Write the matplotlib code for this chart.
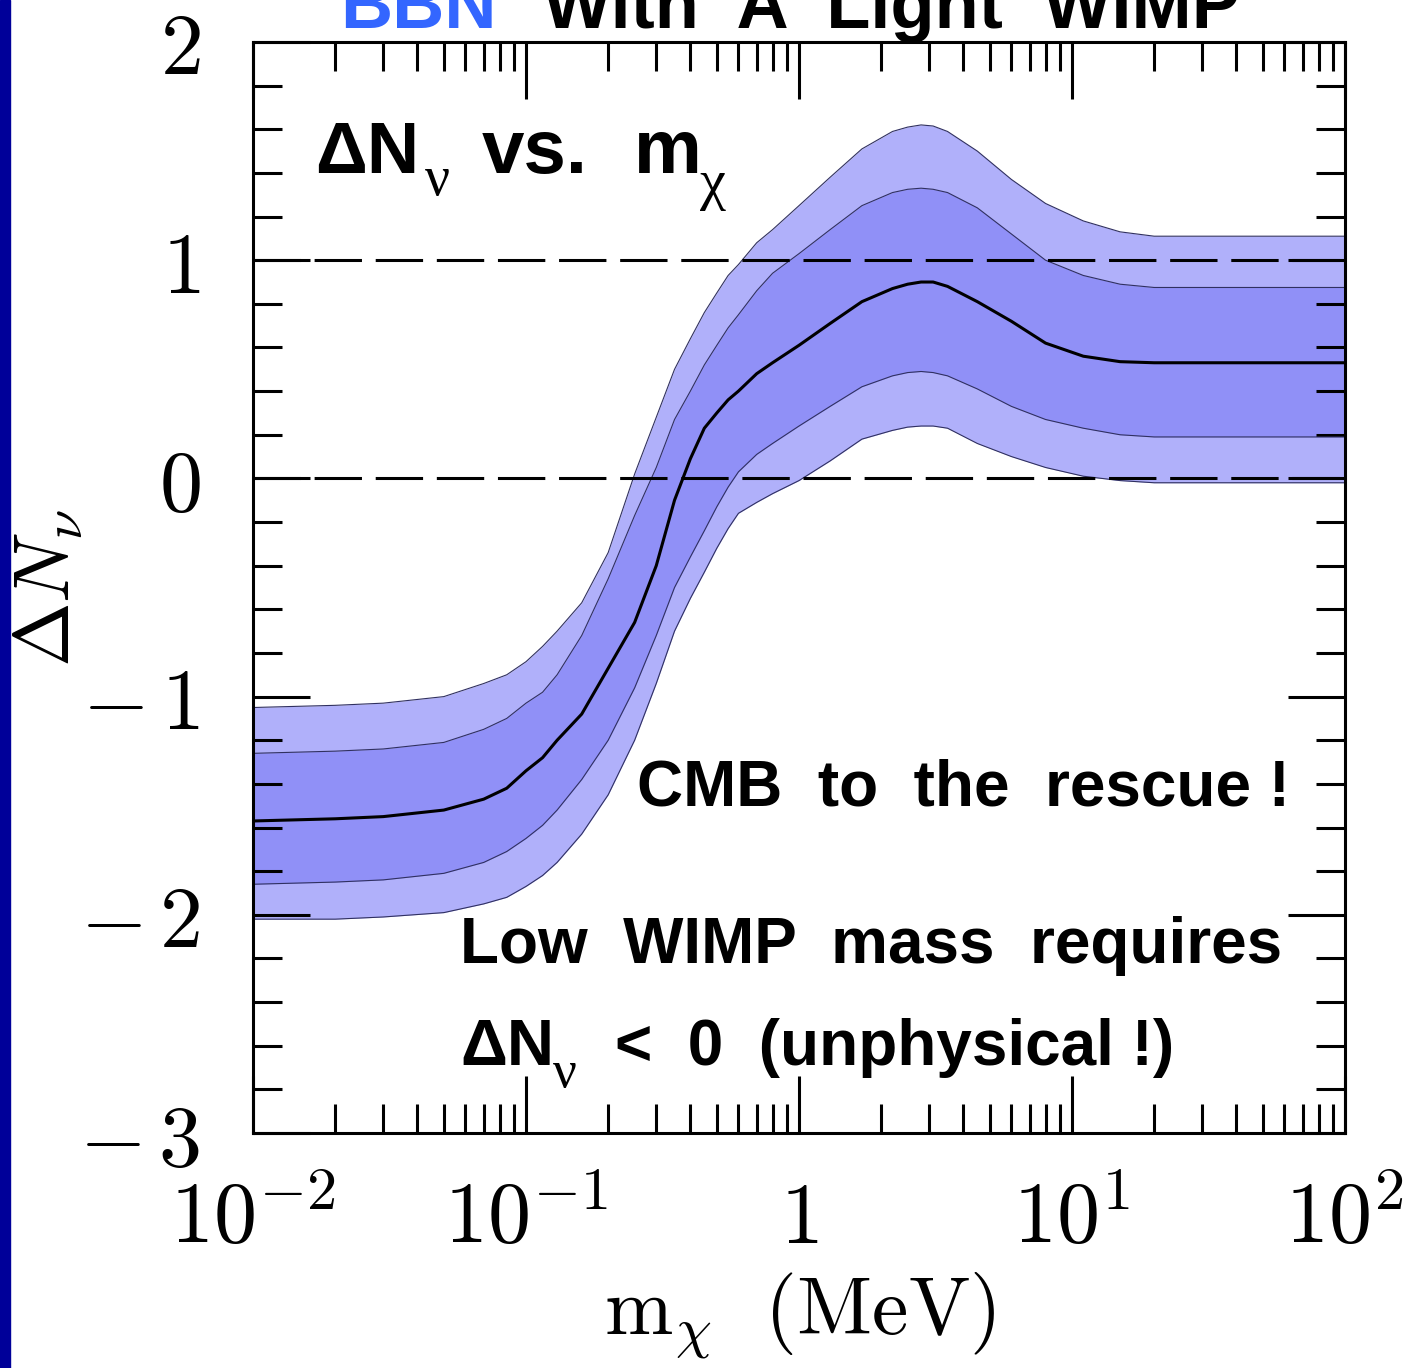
import matplotlib
matplotlib.use('Agg')
import matplotlib.pyplot as plt
from matplotlib.patches import Rectangle
from matplotlib.ticker import MultipleLocator, LogLocator, NullFormatter

# WIMP mass (MeV) and Delta N_nu band edges
mass = [0.01, 0.02, 0.03, 0.05, 0.07, 0.085, 0.1, 0.115, 0.13, 0.16, 0.2, 0.25, 0.3, 0.35, 0.4,
        0.45, 0.5, 0.55, 0.6, 0.7, 0.8, 1.0, 1.3, 1.7, 2.2, 2.5, 2.8, 3.1, 3.5, 4.5, 6, 8, 11,
        15, 20, 30, 50, 100]
central = [-1.57, -1.56, -1.55, -1.52, -1.47, -1.42, -1.34, -1.28, -1.20, -1.08, -0.87, -0.66,
           -0.40, -0.10, 0.09, 0.23, 0.30, 0.36, 0.40, 0.48, 0.53, 0.61, 0.71, 0.81, 0.87, 0.89,
           0.90, 0.90, 0.88, 0.81, 0.72, 0.62, 0.56, 0.535, 0.53, 0.53, 0.53, 0.53]
inner_hi = [-1.26, -1.25, -1.24, -1.21, -1.15, -1.10, -1.03, -0.98, -0.90, -0.72, -0.46, -0.17,
            0.05, 0.27, 0.40, 0.52, 0.61, 0.69, 0.75, 0.86, 0.94, 1.03, 1.14, 1.25, 1.31, 1.325,
            1.33, 1.325, 1.31, 1.24, 1.12, 1.00, 0.93, 0.89, 0.875, 0.875, 0.875, 0.875]
inner_lo = [-1.86, -1.85, -1.84, -1.81, -1.76, -1.71, -1.65, -1.59, -1.52, -1.38, -1.20, -0.96,
            -0.72, -0.50, -0.36, -0.24, -0.13, -0.04, 0.03, 0.11, 0.16, 0.24, 0.33, 0.42, 0.47,
            0.485, 0.49, 0.485, 0.47, 0.41, 0.33, 0.27, 0.23, 0.20, 0.19, 0.19, 0.19, 0.19]
outer_hi = [-1.05, -1.04, -1.03, -1.00, -0.94, -0.90, -0.84, -0.77, -0.70, -0.57, -0.34, 0.02,
            0.28, 0.50, 0.64, 0.76, 0.85, 0.93, 0.98, 1.08, 1.14, 1.25, 1.38, 1.51, 1.59, 1.61,
            1.62, 1.615, 1.59, 1.50, 1.37, 1.26, 1.18, 1.13, 1.11, 1.11, 1.11, 1.11]
outer_lo = [-2.02, -2.02, -2.01, -1.99, -1.95, -1.92, -1.87, -1.82, -1.76, -1.63, -1.45, -1.20,
            -0.94, -0.70, -0.55, -0.43, -0.32, -0.23, -0.16, -0.11, -0.07, -0.01, 0.08, 0.18,
            0.22, 0.235, 0.24, 0.24, 0.23, 0.16, 0.10, 0.05, 0.01, -0.01, -0.02, -0.02, -0.02,
            -0.02]
ref_lines = [0, 1]

xticks = [0.01, 0.1, 1, 10, 100]
xticklabels = [r'$10^{-2}$', r'$10^{-1}$', r'$1$', r'$10^{1}$', r'$10^{2}$']
yticks = [-3, -2, -1, 0, 1, 2]
yticklabels = [r'$-\,3$', r'$-\,2$', r'$-\,1$', r'$0$', r'$1$', r'$2$']

plt.rcParams['mathtext.fontset'] = 'cm'

W, H = 1419, 1368
fig = plt.figure(figsize=(W / 100, H / 100), dpi=100)
fig.patches.append(Rectangle((0, 0), 10 / W, 1, transform=fig.transFigure,
                             color='#000099', zorder=0))

ax = fig.add_axes([253 / W, 1 - 1133 / H, 1092 / W, 1091 / H])
light = '#b0b0fa'
dark = '#9090f7'
edge = '#303060'
ax.fill_between(mass, outer_lo, outer_hi, color=light, lw=0)
ax.fill_between(mass, inner_lo, inner_hi, color=dark, lw=0)
for e in [outer_lo, outer_hi, inner_lo, inner_hi]:
    ax.plot(mass, e, color=edge, lw=0.8)
ax.plot(mass, central, color='black', lw=2.2)
for yv in ref_lines:
    ax.axhline(yv, color='black', lw=2.2, dashes=(15.5, 4.5))

ax.set_xscale('log')
ax.set_xlim(0.01, 100)
ax.set_ylim(-3, 2)
ax.set_xticks(xticks, xticklabels)
ax.set_yticks(yticks, yticklabels)
ax.xaxis.set_minor_locator(LogLocator(base=10, subs=range(2, 10), numticks=20))
ax.xaxis.set_minor_formatter(NullFormatter())
ax.yaxis.set_minor_locator(MultipleLocator(0.2))
ax.tick_params(which='both', direction='in', top=True, right=True, width=2.2, color='black')
ax.tick_params(which='major', length=41)
ax.tick_params(which='minor', length=21)
ax.tick_params(axis='x', pad=79, labelsize=62)
ax.tick_params(axis='y', pad=38, labelsize=62)
for lbl in ax.get_xticklabels():
    lbl.set_va('baseline')
for s in ax.spines.values():
    s.set_linewidth(2.2)

fig.text(800 / W, 1 - 1335 / H, r'$\mathrm{m}_\chi\ \ (\mathrm{MeV})$', fontsize=59,
         ha='center', va='baseline')
fig.text(48 / W, 1 - 588 / H, r'$\Delta N_\nu$', fontsize=56, rotation=90,
         ha='center', va='center')

# title, cut at the top edge
tfont = dict(family='Liberation Sans', weight='bold', fontsize=52, va='baseline')
fig.text(340 / W, 1 - 28 / H, 'BBN', color='#3366ff', **tfont)
fig.text(543 / W, 1 - 28 / H, 'With  A  Light  WIMP', color='black', **tfont)


def put(x, y, s, size, family='Liberation Sans', weight='bold'):
    fig.text(x / W, 1 - y / H, s, family=family, weight=weight, fontsize=size,
             va='baseline', color='black')


put(315, 173, 'ΔN', 52)
put(425, 195, 'ν', 40, 'Liberation Serif', 'normal')
put(482, 173, 'vs.', 55)
put(634, 173, 'm', 55)
put(700, 199, 'χ', 42, 'Liberation Serif', 'normal')

put(637, 805, 'CMB  to  the  rescue !', 46)
put(460, 963, 'Low  WIMP  mass  requires', 46)

put(460, 1065, 'ΔN', 47)
put(553, 1087, 'ν', 38, 'Liberation Serif', 'normal')
put(615, 1065, '<  0  (unphysical !)', 46)

fig.savefig('out.png', dpi=100)
